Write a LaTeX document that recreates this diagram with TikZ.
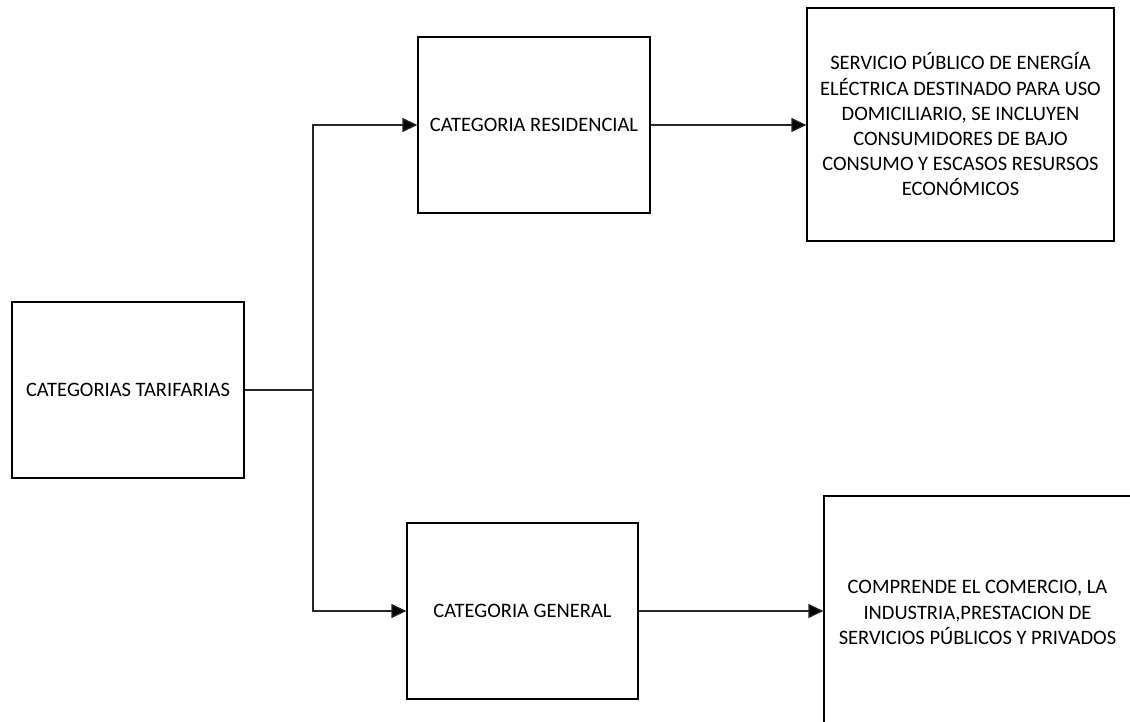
\documentclass[tikz,border=0pt]{standalone}
\usepackage{fontspec}
\setmainfont{Carlito}
\usetikzlibrary{arrows.meta}

\tikzset{
  box/.style={draw=black, line width=1.2pt, fill=white, align=center,
    inner sep=0pt, font=\fontsize{20.5}{25.2}\selectfont},
  link/.style={draw=black!85, line width=1.2pt},
  arrowlink/.style={link, -{Triangle[length=15pt,width=14pt,fill=black]}}
}

\begin{document}
\begin{tikzpicture}[x=1pt,y=-1pt]
  \clip (0,0) rectangle (1130,722);
  \fill[white] (0,0) rectangle (1130,722);

  % category boxes
  \node[box, minimum width=232pt, minimum height=176pt] (cat) at (128,390) {CATEGORIAS TARIFARIAS};
  \node[box, minimum width=232pt, minimum height=176pt] (res) at (534,125) {CATEGORIA RESIDENCIAL};
  \node[box, minimum width=231pt, minimum height=176pt] (gen) at (522.5,611) {CATEGORIA GENERAL};

  % description boxes
  \node[box, minimum width=307pt, minimum height=233pt] (resdesc) at (960.5,124.5)
    {SERVICIO PÚBLICO DE ENERGÍA\\ELÉCTRICA DESTINADO PARA USO\\DOMICILIARIO, SE INCLUYEN\\CONSUMIDORES DE BAJO\\CONSUMO Y ESCASOS RESURSOS\\ECONÓMICOS};
  \node[box, minimum width=307pt, minimum height=233pt] (gendesc) at (977.5,612.5)
    {COMPRENDE EL COMERCIO, LA\\INDUSTRIA,PRESTACION DE\\SERVICIOS PÚBLICOS Y PRIVADOS};

  % branching connector
  \coordinate (fork) at (313,390);
  \draw[link] (cat.east) -- (fork);
  \draw[arrowlink] (fork) |- (res.west);
  \draw[arrowlink] (fork) |- (gen.west);

  % connectors to descriptions
  \draw[arrowlink] (res.east) -- (res.east -| resdesc.west);
  \draw[arrowlink] (gen.east) -- (gen.east -| gendesc.west);
\end{tikzpicture}
\end{document}
